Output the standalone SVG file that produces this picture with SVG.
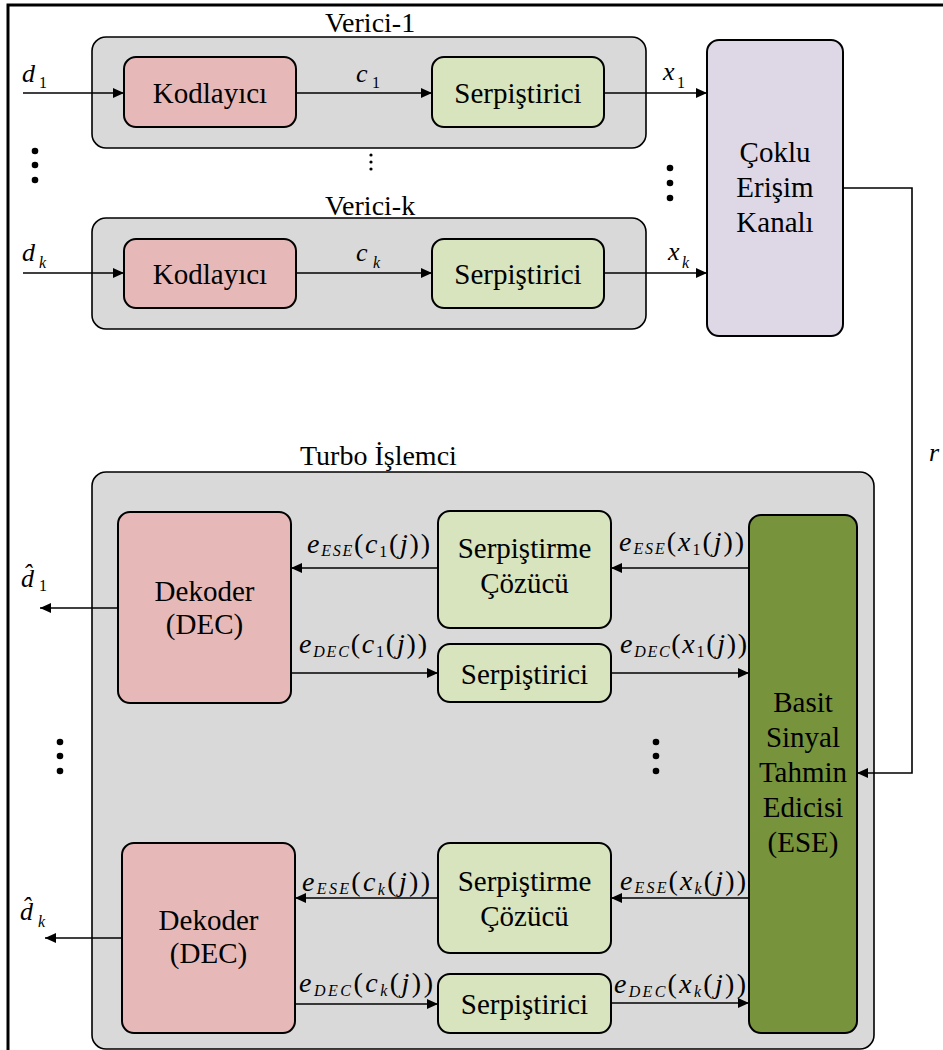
<svg xmlns="http://www.w3.org/2000/svg" width="943" height="1050" viewBox="0 0 943 1050">
  <defs>
    <style>
      .t { font-family: "Liberation Serif", Tinos, "Times New Roman", Times, "Noto Serif", "DejaVu Serif", FreeSerif, serif; fill: #000; }
      .lbl { font-size: 29px; text-anchor: middle; }
      .ttl { font-size: 28px; }
      .cont { fill: #D9D9D9; stroke: #000; stroke-width: 1.6; }
      .enc { fill: #E6B9B8; stroke: #000; stroke-width: 2; }
      .grn { fill: #D7E4BD; stroke: #000; stroke-width: 2; }
      .mac { fill: #DED8E6; stroke: #000; stroke-width: 2; }
      .ese { fill: #77933C; stroke: #000; stroke-width: 2; }
      .wire { fill: none; stroke: #000; stroke-width: 1.6; }
      .arr { marker-end: url(#ah); }
      .frame { fill: none; stroke: #000; stroke-width: 3; }
      .m { font-size: 28px; }
      .v { font-size: 26px; }
      .i { font-style: italic; }
      .s { font-size: 16px; }
      .dot { fill: #000; }
    </style>
    <marker id="ah" markerUnits="userSpaceOnUse" markerWidth="11" markerHeight="10" refX="11" refY="5" orient="auto">
      <path d="M0,0 L11,5 L0,10 z" fill="#000"/>
    </marker>
  </defs>

  <rect width="943" height="1050" fill="#fff"/>

  <!-- outer frame (top and left edges) -->
  <path class="frame" d="M8,1050 V5 H943"/>

  <!-- transmitter 1 -->
  <g id="verici-1">
    <rect class="cont" x="92" y="37" width="554" height="111" rx="14"/>
    <text class="t ttl" x="325" y="32">Verici-1</text>
  </g>
  <g id="kodlayici-1">
    <rect class="enc" x="124" y="57" width="172" height="70" rx="12"/>
    <text class="t lbl" x="210" y="103">Kodlayıcı</text>
  </g>
  <g id="serpistirici-t1">
    <rect class="grn" x="432" y="57" width="172" height="70" rx="12"/>
    <text class="t lbl" x="518" y="103">Serpiştirici</text>
  </g>

  <!-- transmitter k -->
  <g id="verici-k">
    <rect class="cont" x="92" y="218" width="554" height="111" rx="14"/>
    <text class="t ttl" x="325" y="215">Verici-k</text>
  </g>
  <g id="kodlayici-k">
    <rect class="enc" x="124" y="239" width="172" height="69" rx="12"/>
    <text class="t lbl" x="210" y="284">Kodlayıcı</text>
  </g>
  <g id="serpistirici-tk">
    <rect class="grn" x="432" y="239" width="172" height="69" rx="12"/>
    <text class="t lbl" x="518" y="284">Serpiştirici</text>
  </g>

  <!-- multiple access channel -->
  <g id="kanal">
    <rect class="mac" x="707" y="40" width="136" height="296" rx="12"/>
    <text class="t lbl" x="775" y="162">Çoklu</text>
    <text class="t lbl" x="775" y="197">Erişim</text>
    <text class="t lbl" x="775" y="232">Kanalı</text>
  </g>

  <!-- turbo processor -->
  <g id="turbo">
    <rect class="cont" x="92" y="472" width="782" height="577" rx="14"/>
    <text class="t ttl" x="300" y="465">Turbo İşlemci</text>
  </g>
  <g id="dekoder-1">
    <rect class="enc" x="118" y="512" width="173" height="191" rx="12"/>
    <text class="t lbl" x="204.5" y="601">Dekoder</text>
    <text class="t lbl" x="204.5" y="634">(DEC)</text>
  </g>
  <g id="cozucu-1">
    <rect class="grn" x="438" y="511" width="173" height="117" rx="12"/>
    <text class="t lbl" x="524.5" y="558">Serpiştirme</text>
    <text class="t lbl" x="524.5" y="593">Çözücü</text>
  </g>
  <g id="serpistirici-r1">
    <rect class="grn" x="438" y="644" width="173" height="58" rx="12"/>
    <text class="t lbl" x="524.5" y="684">Serpiştirici</text>
  </g>
  <g id="dekoder-k">
    <rect class="enc" x="122" y="843" width="173" height="190" rx="12"/>
    <text class="t lbl" x="208.5" y="930">Dekoder</text>
    <text class="t lbl" x="208.5" y="963">(DEC)</text>
  </g>
  <g id="cozucu-k">
    <rect class="grn" x="438" y="843" width="173" height="110" rx="12"/>
    <text class="t lbl" x="524.5" y="891">Serpiştirme</text>
    <text class="t lbl" x="524.5" y="926">Çözücü</text>
  </g>
  <g id="serpistirici-rk">
    <rect class="grn" x="438" y="974" width="173" height="59" rx="12"/>
    <text class="t lbl" x="524.5" y="1014">Serpiştirici</text>
  </g>
  <g id="ese">
    <rect class="ese" x="749" y="515" width="108" height="518" rx="12"/>
    <text class="t lbl" x="803" y="712">Basit</text>
    <text class="t lbl" x="803" y="747">Sinyal</text>
    <text class="t lbl" x="803" y="782">Tahmin</text>
    <text class="t lbl" x="803" y="817">Edicisi</text>
    <text class="t lbl" x="803" y="852">(ESE)</text>
  </g>

  <!-- ellipsis dots -->
  <g id="dots">
    <circle class="dot" cx="35" cy="151" r="3.3"/>
    <circle class="dot" cx="35" cy="165" r="3.3"/>
    <circle class="dot" cx="35" cy="180" r="3.3"/>
    <circle class="dot" cx="371" cy="155" r="1.6"/>
    <circle class="dot" cx="371" cy="162" r="1.6"/>
    <circle class="dot" cx="371" cy="169" r="1.6"/>
    <circle class="dot" cx="670" cy="168" r="3.3"/>
    <circle class="dot" cx="670" cy="183" r="3.3"/>
    <circle class="dot" cx="670" cy="198" r="3.3"/>
    <circle class="dot" cx="60" cy="742" r="3.3"/>
    <circle class="dot" cx="60" cy="756" r="3.3"/>
    <circle class="dot" cx="60" cy="771" r="3.3"/>
    <circle class="dot" cx="656" cy="742" r="3.3"/>
    <circle class="dot" cx="656" cy="756" r="3.3"/>
    <circle class="dot" cx="656" cy="771" r="3.3"/>
  </g>

  <!-- connectors -->
  <g id="connectors">
    <path class="wire arr" d="M23,93 H124"/>
    <path class="wire arr" d="M296,93 H432"/>
    <path class="wire arr" d="M604,93 H707"/>
    <path class="wire arr" d="M23,273 H124"/>
    <path class="wire arr" d="M296,273 H432"/>
    <path class="wire arr" d="M604,273 H707"/>
    <path class="wire arr" d="M843,188 H912 V773 H857"/>
    <path class="wire arr" d="M749,568 H611"/>
    <path class="wire arr" d="M438,568 H291"/>
    <path class="wire arr" d="M291,673 H438"/>
    <path class="wire arr" d="M611,673 H749"/>
    <path class="wire arr" d="M118,608 H40"/>
    <path class="wire arr" d="M749,898 H611"/>
    <path class="wire arr" d="M438,898 H295"/>
    <path class="wire arr" d="M295,1004 H438"/>
    <path class="wire arr" d="M611,1003 H749"/>
    <path class="wire arr" d="M122,938 H45"/>
  </g>

  <!-- signal labels -->
  <g id="labels">
    <text class="t v i" x="22" y="82">d</text><text class="t s" x="39" y="88">1</text>
    <text class="t v i" x="356" y="82">c</text><text class="t s" x="372" y="88">1</text>
    <text class="t v i" x="663" y="80">x</text><text class="t s" x="677" y="88">1</text>
    <text class="t v i" x="22" y="261">d</text><text class="t s i" x="39" y="268">k</text>
    <text class="t v i" x="356" y="261">c</text><text class="t s i" x="373" y="268">k</text>
    <text class="t v i" x="668" y="260">x</text><text class="t s i" x="682" y="268">k</text>
    <text class="t v i" x="929" y="461">r</text>

    <text class="t v" x="21" y="587"><tspan class="i">d̂</tspan><tspan class="s" x="39" y="591">1</tspan></text>
    <text class="t v" x="20" y="920"><tspan class="i">d̂</tspan><tspan class="s i" x="38" y="927">k</tspan></text>

    <text class="t m" x="307" y="553" textLength="123" lengthAdjust="spacing"><tspan class="i">e</tspan><tspan class="s i" dy="3">ESE</tspan><tspan dy="-3">(</tspan><tspan class="i">c</tspan><tspan class="s" dy="4">1</tspan><tspan dy="-4">(</tspan><tspan class="i">j</tspan>))</text>
    <text class="t m" x="299" y="653" textLength="128" lengthAdjust="spacing"><tspan class="i">e</tspan><tspan class="s i" dy="4">DEC</tspan><tspan dy="-4">(</tspan><tspan class="i">c</tspan><tspan class="s" dy="4">1</tspan><tspan dy="-4">(</tspan><tspan class="i">j</tspan>))</text>
    <text class="t m" x="619" y="551" textLength="125" lengthAdjust="spacing"><tspan class="i">e</tspan><tspan class="s i" dy="3">ESE</tspan><tspan dy="-3">(</tspan><tspan class="i">x</tspan><tspan class="s" dy="4">1</tspan><tspan dy="-4">(</tspan><tspan class="i">j</tspan>))</text>
    <text class="t m" x="620" y="653" textLength="127" lengthAdjust="spacing"><tspan class="i">e</tspan><tspan class="s i" dy="4">DEC</tspan><tspan dy="-4">(</tspan><tspan class="i">x</tspan><tspan class="s" dy="4">1</tspan><tspan dy="-4">(</tspan><tspan class="i">j</tspan>))</text>

    <text class="t m" x="302" y="891" textLength="128" lengthAdjust="spacing"><tspan class="i">e</tspan><tspan class="s i" dy="3">ESE</tspan><tspan dy="-3">(</tspan><tspan class="i">c</tspan><tspan class="s i" dy="4">k</tspan><tspan dy="-4">(</tspan><tspan class="i">j</tspan>))</text>
    <text class="t m" x="299" y="992" textLength="134" lengthAdjust="spacing"><tspan class="i">e</tspan><tspan class="s i" dy="4">DEC</tspan><tspan dy="-4">(</tspan><tspan class="i">c</tspan><tspan class="s i" dy="4">k</tspan><tspan dy="-4">(</tspan><tspan class="i">j</tspan>))</text>
    <text class="t m" x="620" y="890" textLength="126" lengthAdjust="spacing"><tspan class="i">e</tspan><tspan class="s i" dy="3">ESE</tspan><tspan dy="-3">(</tspan><tspan class="i">x</tspan><tspan class="s i" dy="4">k</tspan><tspan dy="-4">(</tspan><tspan class="i">j</tspan>))</text>
    <text class="t m" x="614" y="993" textLength="132" lengthAdjust="spacing"><tspan class="i">e</tspan><tspan class="s i" dy="4">DEC</tspan><tspan dy="-4">(</tspan><tspan class="i">x</tspan><tspan class="s i" dy="4">k</tspan><tspan dy="-4">(</tspan><tspan class="i">j</tspan>))</text>
  </g>
</svg>
